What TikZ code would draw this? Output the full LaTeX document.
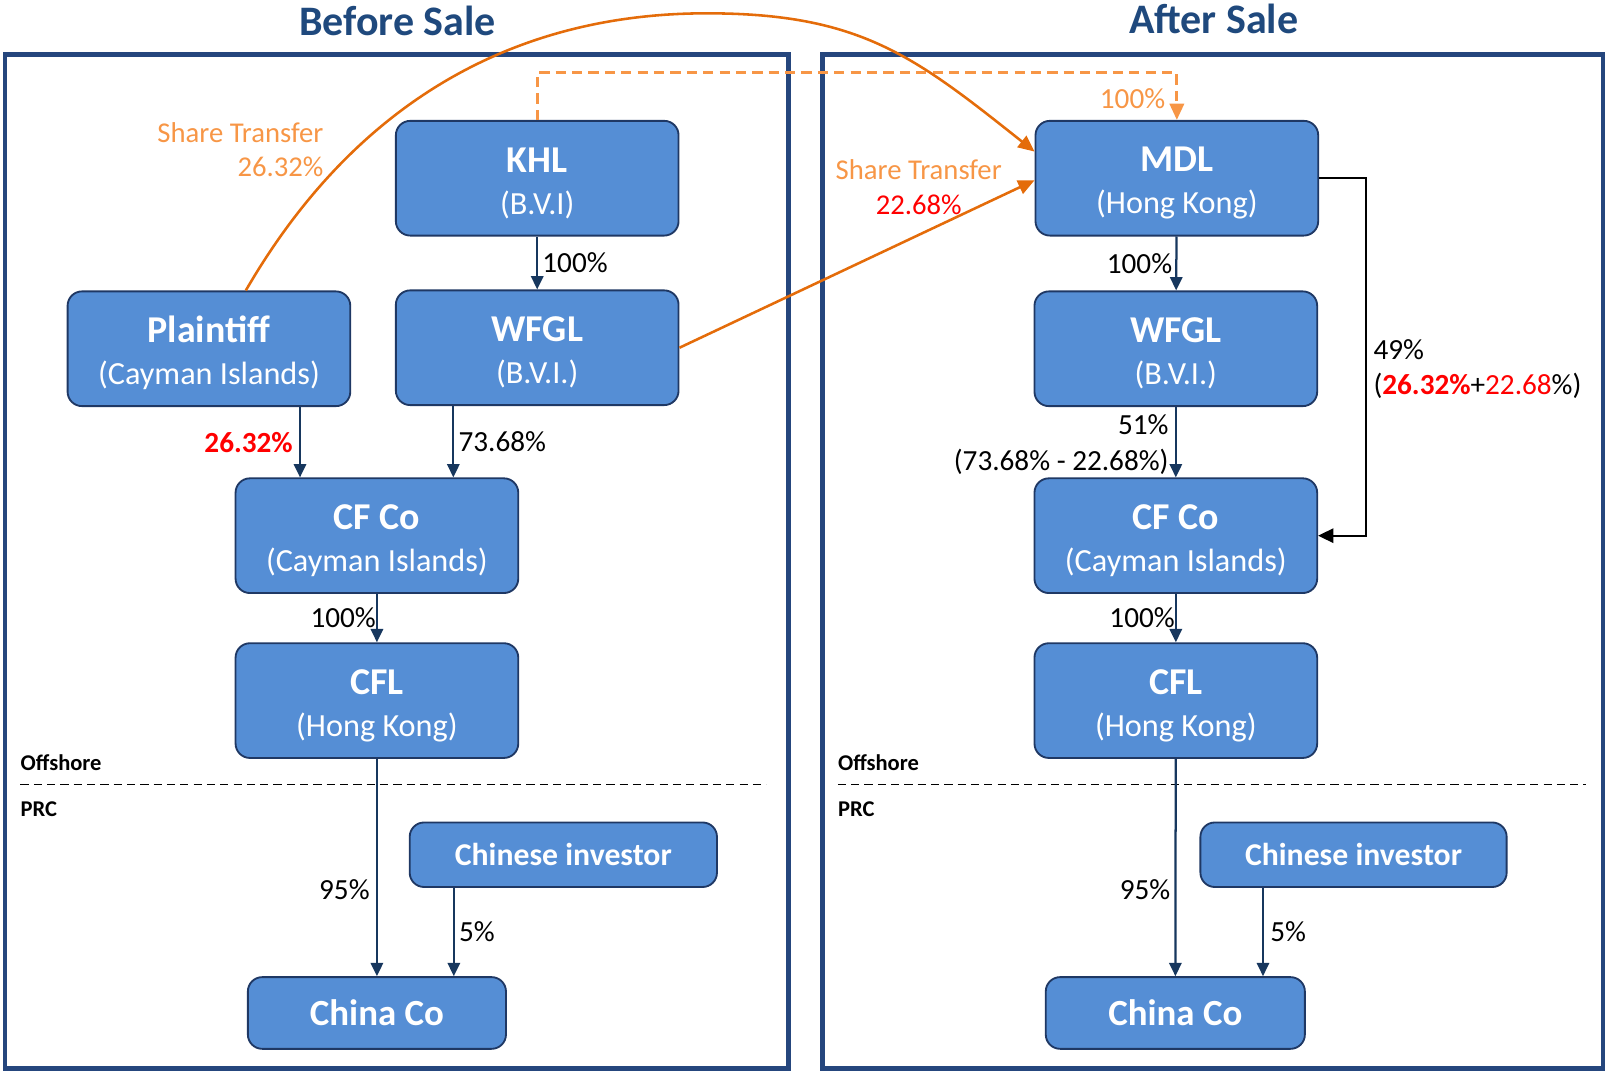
\documentclass[tikz,border=0pt]{standalone}
\usepackage{fontspec}
\setmainfont{Carlito}
\usetikzlibrary{arrows.meta}

\definecolor{boxfill}{RGB}{85,142,213}
\definecolor{boxline}{RGB}{31,56,100}
\definecolor{arrownavy}{RGB}{23,55,94}
\definecolor{framecol}{RGB}{37,70,125}
\definecolor{titlecol}{RGB}{31,73,125}
\definecolor{xferline}{RGB}{228,108,10}
\definecolor{xfertext}{RGB}{247,150,70}
\definecolor{pctred}{RGB}{255,0,0}

\tikzset{
  corpbox/.style={draw=boxline, fill=boxfill, line width=1.8pt, rounded corners=14pt,
    text=white, align=center, inner sep=0pt, font=\fontsize{31.5}{41}\selectfont,
    minimum width=276pt, minimum height=112pt},
  flatbox/.style={corpbox, font=\fontsize{31}{36}\selectfont\bfseries},
  own/.style={draw=arrownavy, line width=2.2pt, -{Triangle[width=12pt,length=13pt]}},
  ownblk/.style={draw=black, line width=2.2pt, -{Triangle[width=14pt,length=15pt]}},
  xfer/.style={draw=xferline, line width=2.5pt, -{Triangle[width=14pt,length=16pt]}},
  xferdash/.style={draw=xfertext, line width=2.8pt, dash pattern=on 10pt off 6pt,
    -{Triangle[width=14pt,length=16pt]}},
  pct/.style={font=\fontsize{28.5}{35}\selectfont, inner sep=6pt},
  frame/.style={draw=framecol, line width=4.5pt},
  zone/.style={font=\fontsize{22}{26}\selectfont\bfseries, anchor=west, inner sep=0pt},
  heading/.style={font=\fontsize{41}{48}\selectfont\bfseries, text=titlecol}
}
\newcommand{\firmname}[2]{{\fontsize{37}{41}\selectfont\bfseries\rule{0pt}{34pt}#1}\\#2}

\begin{document}
\begin{tikzpicture}[x=1pt,y=-1pt]
\useasboundingbox (0,0) rectangle (1568,1047);
% Frames and headings
\draw[frame] (5,53) rectangle (770,1043);
\draw[frame] (803,53) rectangle (1565,1043);
\node[heading] (before) at (388,20) {Before Sale};
\node[heading] (after) at (1185,18) {After Sale};
% Offshore / PRC split
\draw[line width=1.5pt, dash pattern=on 8pt off 5pt] (20,766) -- (748,766);
\draw[line width=1.5pt, dash pattern=on 8pt off 5pt] (818,766) -- (1548,766);
\node[zone] (offL) at (20,745) {Offshore};
\node[zone] (prcL) at (20,790) {PRC};
\node[zone] (offR) at (818,745) {Offshore};
\node[zone] (prcR) at (818,790) {PRC};

% Before sale
\node[corpbox] (khl) at (524.5,174) {\firmname{KHL}{(B.V.I)}};
\node[corpbox] (plaintiff) at (204,340.5) {\firmname{Plaintiff}{(Cayman Islands)}};
\node[corpbox] (wfglL) at (524.5,339.5) {\firmname{WFGL}{(B.V.I.)}};
\node[corpbox] (cfcoL) at (368,523) {\firmname{CF Co}{(Cayman Islands)}};
\node[corpbox] (cflL) at (368,684) {\firmname{CFL}{(Hong Kong)}};
\node[flatbox, minimum width=300pt, minimum height=63pt] (invL) at (550,834.5) {Chinese investor};
\node[flatbox, minimum width=252pt, minimum height=70pt, font=\fontsize{36}{40}\selectfont\bfseries] (chinaL) at (368,989) {China Co};

\draw[own] (khl) -- node[pct, right, inner sep=4pt] {100\%} (wfglL);
\draw[own] ([xshift=-50pt]plaintiff.south east) -- node[pct, left, text=pctred, font=\fontsize{28.5}{35}\selectfont\bfseries] {26.32\%} ([xshift=-50pt]plaintiff.south east |- cfcoL.north);
\draw[own] ([xshift=57pt]wfglL.south west) -- node[pct, right, inner sep=4pt] {73.68\%} ([xshift=57pt]wfglL.south west |- cfcoL.north);
\draw[own] (cfcoL) -- node[pct, left, inner sep=0pt] {100\%} (cflL);
\draw[own] (cflL) -- node[pct, left, pos=0.6] {95\%} (chinaL);
\draw[own] ([xshift=44pt]invL.south west) -- node[pct, right, inner sep=4pt] {5\%} ([xshift=44pt]invL.south west |- chinaL.north);

% After sale
\node[corpbox] (mdl) at (1149,174) {\firmname{MDL}{(Hong Kong)}};
\node[corpbox] (wfglR) at (1148,340.5) {\firmname{WFGL}{(B.V.I.)}};
\node[corpbox] (cfcoR) at (1148,523) {\firmname{CF Co}{(Cayman Islands)}};
\node[corpbox] (cflR) at (1148,684) {\firmname{CFL}{(Hong Kong)}};
\node[flatbox, minimum width=299pt, minimum height=63pt] (invR) at (1321.5,834.5) {Chinese investor};
\node[flatbox, minimum width=253pt, minimum height=70pt, font=\fontsize{36}{40}\selectfont\bfseries] (chinaR) at (1147.5,989) {China Co};

\draw[own] (mdl) -- node[pct, left, inner sep=3pt] {100\%} (wfglR);
\draw[own] (wfglR) -- node[pct, left, align=right, inner sep=0pt, xshift=-6pt, yshift=-2pt] {51\%\\(73.68\% - 22.68\%)} (cfcoR);
\draw[ownblk] (mdl.east) -- ++(46,0) |- node[pct, pos=0.267, anchor=west, align=left, inner sep=0pt, xshift=6pt]
  {49\%\\(\textcolor{pctred}{\textbf{26.32\%}}+\textcolor{pctred}{22.68}\%)} (cfcoR.east);
\draw[own] (cfcoR) -- node[pct, left, inner sep=0pt] {100\%} (cflR);
\draw[own] (cflR) -- node[pct, left, pos=0.6, inner sep=4pt] {95\%} (chinaR);
\draw[own] ([xshift=62pt]invR.south west) -- node[pct, right] {5\%} ([xshift=62pt]invR.south west |- chinaR.north);

% Share transfers
\draw[xferdash] (khl.north) -- ++(0,-46) -| node[pct, pos=0.75, anchor=east, text=xfertext, inner sep=0pt, xshift=-10pt, yshift=-2pt] {100\%} (mdl.north);
\draw[xfer] ([xshift=36pt]plaintiff.north) .. controls (340,111) and (490,13) .. (690,13)
  .. controls (840,13) and (893,55) .. ([yshift=26pt]mdl.west);
\draw[xfer] (wfglL.east) -- ([yshift=-2pt]mdl.west);
\node[pct, anchor=east, align=right, text=xfertext, inner sep=0pt, font=\fontsize{28}{33}\selectfont] (xferL) at (316,146) {Share Transfer\\26.32\%};
\node[pct, align=center, text=xfertext, inner sep=0pt, font=\fontsize{28}{34}\selectfont] (xferR) at (897,183) {Share Transfer\\\textcolor{pctred}{22.68\%}};
\end{tikzpicture}
\end{document}
